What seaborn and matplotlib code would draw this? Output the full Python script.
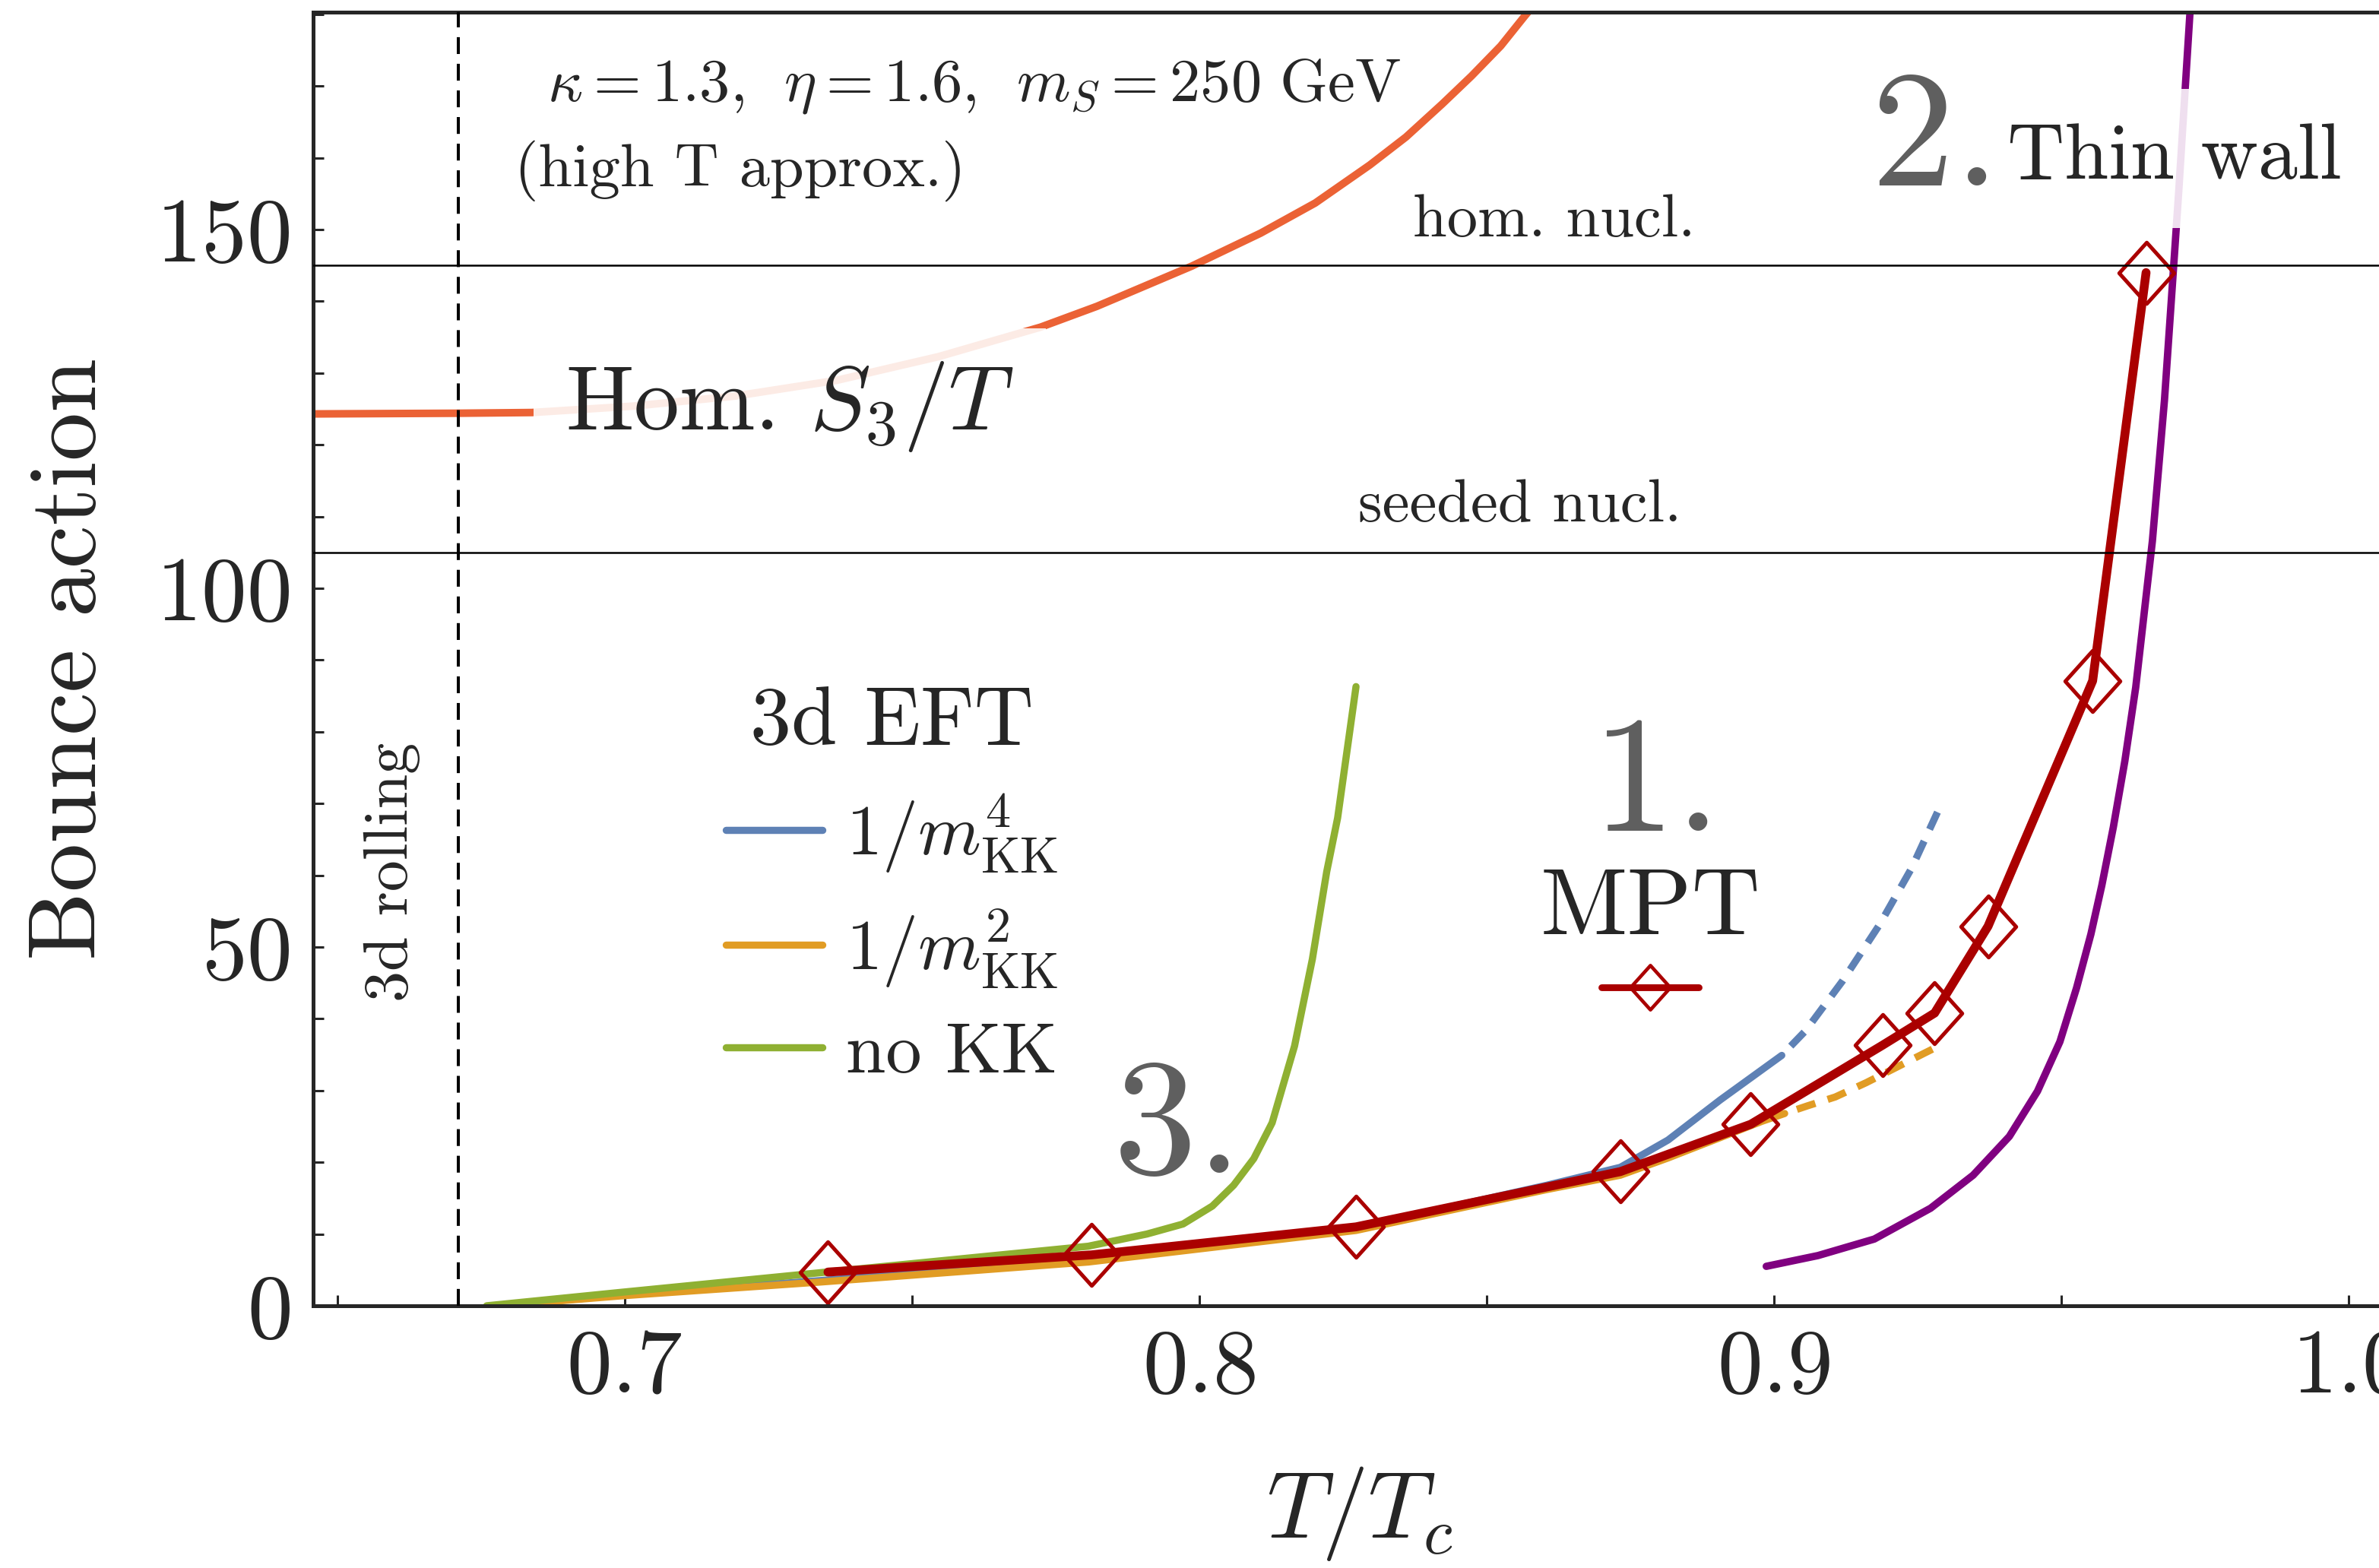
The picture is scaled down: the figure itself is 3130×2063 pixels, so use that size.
import matplotlib
matplotlib.use("Agg")
import seaborn as sns
import matplotlib.pyplot as plt
from matplotlib.lines import Line2D
from matplotlib.path import Path
from matplotlib.ticker import MultipleLocator

# values (x = T/Tc, y = bounce action)
hom_T = [0.6440, 0.6708, 0.6839, 0.7016, 0.7193, 0.7370, 0.7547, 0.7724, 0.7822, 0.7987,
         0.8107, 0.8202, 0.8297, 0.8360, 0.8423, 0.8474, 0.8525, 0.8566, 0.8590]
hom_S = [124.3, 124.4, 124.5, 125.4, 126.8, 129.0, 132.3, 136.4, 139.3, 144.9,
         149.5, 153.7, 159.0, 162.9, 167.5, 171.4, 175.6, 179.7, 182.0]

# 3d EFT, 1/m_KK^4 (solid part, then dashed continuation)
kk4_T = [0.6780, 0.6997, 0.7339, 0.7807, 0.8270, 0.8605, 0.8733, 0.8816, 0.8907, 0.9014]
kk4_S = [0.0, 1.5, 3.5, 6.4, 10.8, 16.8, 19.3, 23.1, 28.7, 34.9]
kk4x_T = [0.9014, 0.9055, 0.9120, 0.9184, 0.9240, 0.9285]
kk4x_S = [34.9, 38.3, 45.3, 53.1, 61.0, 68.8]

# 3d EFT, 1/m_KK^2
kk2_T = [0.6780, 0.6997, 0.7339, 0.7807, 0.8273, 0.8605, 0.8733, 0.8816, 0.8979, 0.9019]
kk2_S = [0.0, 1.4, 3.3, 6.1, 10.5, 16.2, 18.2, 20.6, 25.7, 26.8]
kk2x_T = [0.9019, 0.9060, 0.9107, 0.9161, 0.9262, 0.9277]
kk2x_S = [26.8, 27.9, 29.1, 31.1, 35.2, 35.8]

# 3d EFT, no KK
nokk_T = [0.6760, 0.6997, 0.7339, 0.7807, 0.7909, 0.7972, 0.8023, 0.8060, 0.8095, 0.8127,
          0.8166, 0.8197, 0.8222, 0.8241, 0.8273]
nokk_S = [0.0, 1.9, 4.6, 8.3, 10.0, 11.4, 13.9, 16.8, 20.5, 25.5,
          36.2, 48.3, 60.5, 68.0, 86.3]

# MPT points
mpt_T = [0.7354, 0.7813, 0.8273, 0.8733, 0.8960, 0.9189, 0.9280, 0.9373, 0.9555, 0.9648]
mpt_S = [4.7, 7.1, 11.0, 18.7, 25.3, 36.3, 40.8, 52.9, 87.1, 144.0]

# thin wall
tw_T = [0.8987, 0.9077, 0.9175, 0.9273, 0.9347, 0.9410, 0.9459, 0.9498, 0.9527, 0.9552,
        0.9571, 0.9591, 0.9611, 0.9630, 0.9659, 0.9680, 0.9695, 0.9705, 0.9725]
tw_S = [5.5, 7.0, 9.3, 13.6, 18.2, 23.6, 29.9, 36.8, 44.3, 51.8,
        58.6, 66.7, 75.9, 86.2, 106.6, 126.2, 143.7, 155.5, 181.0]

hom_nucl = 145
seeded_nucl = 105
rolling_T = 0.671

eft_labels = [r"$1/m_{\rm KK}^4$", r"$1/m_{\rm KK}^2$", "no KK"]

# colours
c_hom = "#EB6235"
c_blue = "#5E81B5"
c_orange = "#E19C24"
c_green = "#8FB032"
c_red = "#AA0000"
c_purple = "#800080"
c_gray = "#5F5F5F"

sns.set_style("ticks")
plt.rcParams["font.family"] = ["cmr10"]
plt.rcParams["mathtext.fontset"] = "cm"
plt.rcParams["axes.formatter.use_mathtext"] = True
plt.rcParams["axes.unicode_minus"] = False

fig = plt.figure(figsize=(15.65, 10.315), dpi=200)
ax = fig.add_axes([0.13163, 0.16723, 0.87987, 0.82501])

diamond = Path([(0, 1), (0.9, 0), (0, -1), (-0.9, 0), (0, 1)],
               [Path.MOVETO, Path.LINETO, Path.LINETO, Path.LINETO, Path.CLOSEPOLY])
dash = (2.7, (2.7, 1.8))

# curves
sns.lineplot(x=hom_T, y=hom_S, ax=ax, color=c_hom, lw=3.6, errorbar=None, zorder=2)
sns.lineplot(x=kk4_T, y=kk4_S, ax=ax, color=c_blue, lw=3.4, errorbar=None, zorder=2)
sns.lineplot(x=kk4x_T, y=kk4x_S, ax=ax, color=c_blue, lw=3.4, linestyle=dash, errorbar=None, zorder=2)
sns.lineplot(x=kk2_T, y=kk2_S, ax=ax, color=c_orange, lw=3.4, errorbar=None, zorder=2.1)
sns.lineplot(x=kk2x_T, y=kk2x_S, ax=ax, color=c_orange, lw=3.4, linestyle=dash, errorbar=None, zorder=2.1)
sns.lineplot(x=nokk_T, y=nokk_S, ax=ax, color=c_green, lw=3.4, errorbar=None, zorder=2.2)
sns.lineplot(x=tw_T, y=tw_S, ax=ax, color=c_purple, lw=3.5, errorbar=None, zorder=2)
sns.lineplot(x=mpt_T, y=mpt_S, ax=ax, color=c_red, lw=4.2, errorbar=None, zorder=2.5,
             marker=diamond, markersize=29, markerfacecolor="none",
             markeredgecolor=c_red, markeredgewidth=1.8)

# reference lines
ax.axhline(hom_nucl, color="black", lw=0.9, zorder=3)
ax.axhline(seeded_nucl, color="black", lw=0.9, zorder=3)
ax.axvline(rolling_T, color="black", lw=1.45, linestyle=(0, (5.5, 3.2)), zorder=3)

ax.set_xlim(0.6458, 1.0101)
ax.set_ylim(0, 180.3)

# axes styling
for side in ["top", "left", "bottom", "right"]:
    ax.spines[side].set_linewidth(1.8)
ax.xaxis.set_major_locator(MultipleLocator(0.1))
ax.xaxis.set_minor_locator(MultipleLocator(0.05))
ax.yaxis.set_major_locator(MultipleLocator(50))
ax.yaxis.set_minor_locator(MultipleLocator(10))
ax.tick_params(which="both", direction="in", length=5, width=1.1,
               top=False, right=False, labelsize=43, pad=11)
ax.set_xlabel(r"$T/T_c$", fontsize=44.5, labelpad=26)
ax.set_ylabel("Bounce action", fontsize=46, labelpad=19.5)

# annotations
fade = dict(boxstyle="square,pad=0.35", fc="white", ec="none", alpha=0.88)
ax.text(0.6897, 122.1, r"Hom. $S_3/T$", fontsize=43, va="baseline", bbox=fade, zorder=4)
ax.text(0.9407, 157.1, "Thin wall", fontsize=37.5, va="baseline",
        bbox=dict(boxstyle="square,pad=0.43", fc="white", ec="none", alpha=0.88), zorder=4)
ax.text(0.9168, 156.1, "2.", fontsize=79, va="baseline", color=c_gray, zorder=5)
ax.text(0.8684, 66.2, "1.", fontsize=79, va="baseline", color=c_gray, zorder=5)
ax.text(0.7850, 18.5, "3.", fontsize=79, va="baseline", color=c_gray, zorder=5)

ax.text(0.6866, 168.0, r"$\kappa = 1.3,\ \,\eta = 1.6,\ \,m_S = 250\ \mathrm{GeV}$",
        fontsize=29, va="baseline")
ax.text(0.6809, 156.1, "(high T approx.)", fontsize=29, va="baseline")
ax.text(0.8618, 149.0, "hom. nucl.", fontsize=29, va="baseline", ha="center")
ax.text(0.8558, 109.3, "seeded nucl.", fontsize=29, va="baseline", ha="center")
ax.text(0.6595, 60.4, "3d rolling", fontsize=29.5, rotation=90, ha="center", va="center")

# legends
eft_handles = [Line2D([], [], color=c, lw=3.4) for c in (c_blue, c_orange, c_green)]
leg1 = ax.legend(eft_handles, eft_labels, title="3d EFT", loc="upper left",
                 bbox_to_anchor=(0.7176, 86.35), bbox_transform=ax.transData,
                 frameon=False, fontsize=34, title_fontsize=39, handlelength=1.35,
                 handletextpad=0.32, labelspacing=0.45, borderpad=0, borderaxespad=0)
ax.add_artist(leg1)

mpt_handle = Line2D([], [], color=c_red, lw=3.2, marker=diamond, markersize=21,
                    markerfacecolor="none", markeredgecolor=c_red, markeredgewidth=1.65)
leg2 = ax.legend([mpt_handle], [""], title="MPT", loc="upper center",
                 bbox_to_anchor=(0.8785, 61.0), bbox_transform=ax.transData,
                 frameon=False, fontsize=34, title_fontsize=45, handlelength=1.35,
                 handletextpad=0, labelspacing=0.14, numpoints=1,
                 borderpad=0, borderaxespad=0)

fig.savefig("out.png", dpi=200)
